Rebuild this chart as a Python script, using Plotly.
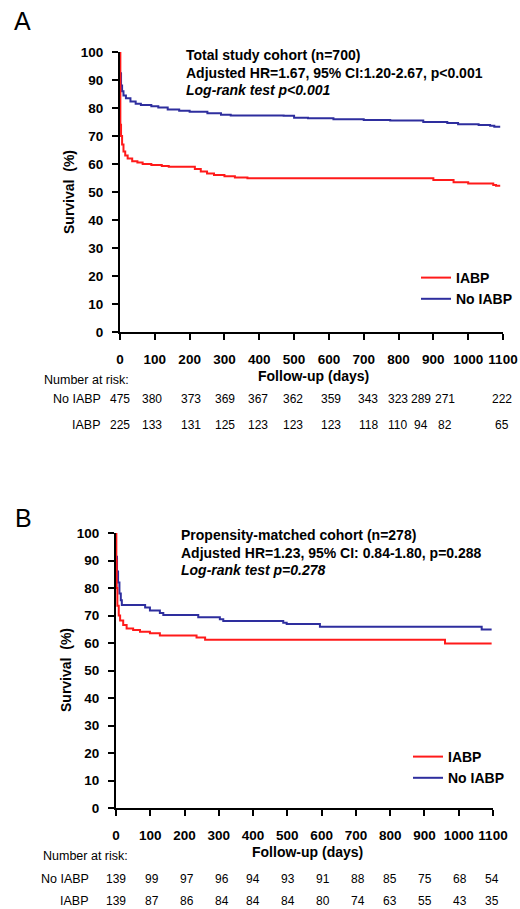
import plotly.graph_objects as go

# ---------------- data ----------------
tick_days = [0, 100, 200, 300, 400, 500, 600, 700, 800, 900, 1000, 1100]
y_ticks = [0, 10, 20, 30, 40, 50, 60, 70, 80, 90, 100]

# Panel A: total study cohort (days, survival %)
a_iabp_days = [0, 1, 3, 6, 10, 15, 22, 35, 50, 65, 90, 120, 140, 200, 215, 232, 250,
               270, 300, 330, 366, 890, 900, 958, 1000, 1072, 1080, 1092]
a_iabp_surv = [100, 74, 70, 67, 64.5, 63, 62, 61, 60.5, 60, 59.6, 59.3, 59, 59, 58.2, 57.3,
               56.6, 56.1, 55.6, 55.2, 54.9, 54.9, 54.3, 53.5, 53.0, 52.5, 52.2, 52.2]
a_no_days = [0, 3, 6, 10, 17, 30, 45, 60, 90, 110, 137, 170, 200, 251, 290, 318, 470, 500,
             540, 613, 700, 776, 871, 940, 971, 1030, 1063, 1075, 1092]
a_no_surv = [92.4, 88, 86, 84.5, 83.5, 82.3, 81.5, 81.1, 80.6, 80.2, 79.5, 79.0, 78.7, 78.1,
             77.6, 77.3, 77.2, 76.5, 76.3, 76.0, 75.7, 75.5, 75.0, 74.6, 74.2, 73.9, 73.7,
             73.3, 73.3]

# Panel B: propensity-matched cohort
b_iabp_days = [0, 1, 2, 4, 8, 12, 21, 31, 50, 70, 99, 128, 235, 260, 960, 1096]
b_iabp_surv = [100, 90, 80, 73.5, 70, 68.2, 66.5, 65.3, 64.7, 64.1, 63.5, 62.7, 62.0, 61.2,
               59.8, 59.8]
b_no_days = [0, 3, 6, 10, 14, 17, 85, 99, 128, 138, 240, 303, 313, 488, 498, 595, 1067, 1096]
b_no_surv = [91.4, 86, 82, 78, 75.5, 73.8, 72.9, 71.8, 70.9, 70.2, 69.4, 68.6, 68.0, 67.4,
             66.9, 65.9, 64.9, 64.9]

# Numbers at risk
risk_a_no = [475, 380, 373, 369, 367, 362, 359, 343, 323, 289, 271, 222]
risk_a_iabp = [225, 133, 131, 125, 123, 123, 123, 118, 110, 94, 82, 65]
risk_b_no = [139, 99, 97, 96, 94, 93, 91, 88, 85, 75, 68, 54]
risk_b_iabp = [139, 87, 86, 84, 84, 84, 80, 74, 63, 55, 43, 35]

text_a = ["Total study cohort (n=700)",
          "Adjusted HR=1.67, 95% CI:1.20-2.67, p<0.001",
          "<i>Log-rank test p<0.001</i>"]
text_b = ["Propensity-matched cohort (n=278)",
          "Adjusted HR=1.23, 95% CI: 0.84-1.80, p=0.288",
          "<i>Log-rank test p=0.278</i>"]

# ---------------- layout helpers ----------------
W, H = 520, 909
FONT = "Arial, 'Liberation Sans', sans-serif"
RED = "#FF1A1A"
BLUE = "#2E2E9E"


def px(x):
    return x / W


def py(y):
    return 1 - y / H


# column positions (days) of the at-risk numbers, as laid out in the reference
risk_pos_a = [0, 92, 203, 302, 395, 496, 605, 713, 798, 865, 933, 1098]
risk_pos_b = [0, 105, 207, 309, 400, 502, 604, 706, 800, 902, 1004, 1097]

fig = go.Figure()

fig.add_trace(go.Scatter(x=a_no_days, y=a_no_surv, mode="lines", name="No IABP",
                         line=dict(color=BLUE, width=2, shape="hv"),
                         xaxis="x", yaxis="y", legend="legend"))
fig.add_trace(go.Scatter(x=a_iabp_days, y=a_iabp_surv, mode="lines", name="IABP",
                         line=dict(color=RED, width=2, shape="hv"),
                         xaxis="x", yaxis="y", legend="legend"))
fig.add_trace(go.Scatter(x=b_no_days, y=b_no_surv, mode="lines", name="No IABP",
                         line=dict(color=BLUE, width=2, shape="hv"),
                         xaxis="x2", yaxis="y2", legend="legend2"))
fig.add_trace(go.Scatter(x=b_iabp_days, y=b_iabp_surv, mode="lines", name="IABP",
                         line=dict(color=RED, width=2, shape="hv"),
                         xaxis="x2", yaxis="y2", legend="legend2"))

axis_common = dict(showline=True, linecolor="black", linewidth=2, ticks="outside",
                   ticklen=6, tickwidth=2, tickcolor="black", showgrid=False,
                   zeroline=False, mirror=False, automargin=False,
                   tickfont=dict(family=FONT, size=13.5, color="black", weight="bold"))

fig.update_layout(
    width=W, height=H, margin=dict(l=0, r=0, t=0, b=0, autoexpand=False),
    paper_bgcolor="white", plot_bgcolor="white",
    xaxis=dict(domain=[px(120), px(503)], range=[0, 1100], tickvals=tick_days,
               anchor="y", ticklabelstandoff=8, **axis_common),
    yaxis=dict(domain=[py(332), py(52)], range=[0, 100], tickvals=y_ticks,
               anchor="x", ticklabelstandoff=6, **axis_common),
    xaxis2=dict(domain=[px(116), px(493)], range=[0, 1100], tickvals=tick_days,
                anchor="y2", ticklabelstandoff=8, **axis_common),
    yaxis2=dict(domain=[py(808), py(533)], range=[0, 100], tickvals=y_ticks,
                anchor="x2", ticklabelstandoff=6, **axis_common),
    legend=dict(x=px(416), y=py(262), xanchor="left", yanchor="top",
                traceorder="reversed", bgcolor="rgba(0,0,0,0)",
                font=dict(family=FONT, size=14, color="black", weight="bold")),
    legend2=dict(x=px(408), y=py(741), xanchor="left", yanchor="top",
                 traceorder="reversed", bgcolor="rgba(0,0,0,0)",
                 font=dict(family=FONT, size=14, color="black", weight="bold")),
)

ann = []


def add_text(text, x, y, size=14, bold=False, xanchor="left", xref="paper", angle=0):
    ann.append(dict(text=text, x=x, y=y, xref=xref, yref="paper", showarrow=False,
                    xanchor=xanchor, yanchor="middle", textangle=angle,
                    font=dict(family=FONT, size=size, color="black",
                              weight="bold" if bold else "normal")))


# panel letters
add_text("A", px(12), py(21), size=25)
add_text("B", px(13), py(518), size=25)

# info text
for i, t in enumerate(text_a):
    add_text(t, px(184), py([55, 73, 90][i]), size=14, bold=True)
for i, t in enumerate(text_b):
    add_text(t, px(179), py([535, 553, 570][i]), size=14, bold=True)

# axis titles
add_text("Survival  (%)", px(69), py(192), size=14, bold=True, xanchor="center", angle=-90)
add_text("Survival  (%)", px(66), py(670), size=14, bold=True, xanchor="center", angle=-90)
add_text("Follow-up (days)", px(313), py(376), size=14, bold=True, xanchor="center")
add_text("Follow-up (days)", px(307), py(852), size=14, bold=True, xanchor="center")

# numbers at risk
add_text("Number at risk:", px(42), py(380), size=12.5)
add_text("No IABP", px(103), py(399), size=12.5, xanchor="right")
add_text("IABP", px(103), py(425), size=12.5, xanchor="right")
for pos, n1, n2 in zip(risk_pos_a, risk_a_no, risk_a_iabp):
    add_text(str(n1), pos, py(399), size=12, xanchor="center", xref="x")
    add_text(str(n2), pos, py(425), size=12, xanchor="center", xref="x")

add_text("Number at risk:", px(41), py(856), size=12.5)
add_text("No IABP", px(91), py(879), size=12.5, xanchor="right")
add_text("IABP", px(91), py(901), size=12.5, xanchor="right")
for pos, n1, n2 in zip(risk_pos_b, risk_b_no, risk_b_iabp):
    add_text(str(n1), pos, py(879), size=12, xanchor="center", xref="x2")
    add_text(str(n2), pos, py(901), size=12, xanchor="center", xref="x2")

fig.update_layout(annotations=ann)

fig.write_html(
    "out.html",
    config={"displayModeBar": False},
    post_script="document.body.style.margin='0';document.body.style.overflow='hidden';"
                "document.documentElement.style.overflow='hidden';",
)
